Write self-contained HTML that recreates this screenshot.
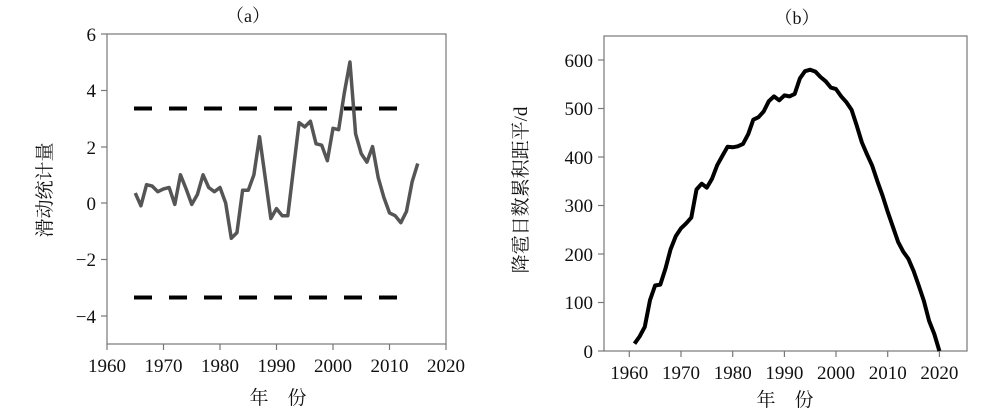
<!DOCTYPE html>
<html><head><meta charset="utf-8"><style>body{margin:0;background:#fff}svg{display:block}text{font-family:"Liberation Serif","Noto Serif CJK SC",serif;fill:#111}</style></head><body>
<svg width="1000" height="414" xmlns="http://www.w3.org/2000/svg">
<g font-size="18">
<text x="248" y="22" text-anchor="middle">（a）</text>
<text x="797" y="24" text-anchor="middle">（b）</text>
</g>
<!-- Chart a -->
<rect x="107" y="34" width="339" height="310" fill="none" stroke="#777" stroke-width="1.2"/>
<g stroke="#777" stroke-width="1.2">
<line x1="101" y1="34" x2="107" y2="34"/><line x1="101" y1="90.5" x2="107" y2="90.5"/><line x1="101" y1="147" x2="107" y2="147"/><line x1="101" y1="203" x2="107" y2="203"/><line x1="101" y1="259.5" x2="107" y2="259.5"/><line x1="101" y1="316" x2="107" y2="316"/>
<line x1="107" y1="344" x2="107" y2="350"/><line x1="163.5" y1="344" x2="163.5" y2="350"/><line x1="220" y1="344" x2="220" y2="350"/><line x1="276.5" y1="344" x2="276.5" y2="350"/><line x1="333" y1="344" x2="333" y2="350"/><line x1="389.5" y1="344" x2="389.5" y2="350"/><line x1="446" y1="344" x2="446" y2="350"/>
</g>
<g font-size="19" text-anchor="end">
<text x="96" y="41">6</text><text x="96" y="97">4</text><text x="96" y="154">2</text><text x="96" y="210">0</text><text x="96" y="266">−2</text><text x="96" y="323">−4</text>
</g>
<g font-size="19" text-anchor="middle">
<text x="107" y="372">1960</text><text x="163.5" y="372">1970</text><text x="220" y="372">1980</text><text x="276.5" y="372">1990</text><text x="333" y="372">2000</text><text x="389.5" y="372">2010</text><text x="446" y="372">2020</text>
<text x="278" y="404">年　份</text>
</g>
<text transform="translate(51,190) rotate(-90)" font-size="19" text-anchor="middle">滑动统计量</text>
<g stroke="#000" stroke-width="4" stroke-dasharray="18 17">
<line x1="134" y1="108.5" x2="400" y2="108.5"/><line x1="134" y1="297.5" x2="400" y2="297.5"/>
</g>
<polyline fill="none" stroke="#555" stroke-width="3.5" stroke-linejoin="round" points="135.25,193.1 140.9,205.8 146.55,184.7 152.2,186.1 157.85,191.7 163.5,188.9 169.15,187.5 174.8,204.4 180.45,174.8 186.1,188.9 191.75,204.4 197.4,194.5 203.05,174.8 208.7,187.5 214.35,191.7 220,187.5 225.65,203 231.3,238.3 236.95,232.6 242.6,190.3 248.25,190.3 253.9,174.8 259.55,136.7 265.2,177.6 270.85,218.5 276.5,208.6 282.15,215.7 287.8,215.7 293.45,169.2 299.1,122.6 304.75,126.9 310.4,121.2 316.05,143.8 321.7,145.2 327.35,160.7 333,128.3 338.65,129.7 344.3,93 349.95,62 355.6,133.9 361.25,153.7 366.9,162.1 372.55,146.6 378.2,177.6 383.85,197.4 389.5,212.9 395.15,215.7 400.8,222.7 406.45,211.5 412.1,181.9 417.75,163.5"/>
<!-- Chart b -->
<rect x="604" y="36" width="363" height="315" fill="none" stroke="#777" stroke-width="1.2"/>
<g stroke="#777" stroke-width="1.2">
<line x1="598" y1="60" x2="604" y2="60"/><line x1="598" y1="108.5" x2="604" y2="108.5"/><line x1="598" y1="157" x2="604" y2="157"/><line x1="598" y1="205.5" x2="604" y2="205.5"/><line x1="598" y1="254" x2="604" y2="254"/><line x1="598" y1="302.5" x2="604" y2="302.5"/><line x1="598" y1="351" x2="604" y2="351"/>
<line x1="629.3" y1="351" x2="629.3" y2="357"/><line x1="681" y1="351" x2="681" y2="357"/><line x1="732.7" y1="351" x2="732.7" y2="357"/><line x1="784.4" y1="351" x2="784.4" y2="357"/><line x1="836" y1="351" x2="836" y2="357"/><line x1="887.7" y1="351" x2="887.7" y2="357"/><line x1="939.4" y1="351" x2="939.4" y2="357"/>
</g>
<g font-size="19" text-anchor="end">
<text x="593" y="67">600</text><text x="593" y="115">500</text><text x="593" y="164">400</text><text x="593" y="212">300</text><text x="593" y="261">200</text><text x="593" y="309">100</text><text x="593" y="358">0</text>
</g>
<g font-size="19" text-anchor="middle">
<text x="629.3" y="379">1960</text><text x="681" y="379">1970</text><text x="732.7" y="379">1980</text><text x="784.4" y="379">1990</text><text x="836" y="379">2000</text><text x="887.7" y="379">2010</text><text x="939.4" y="379">2020</text>
<text x="785" y="406">年　份</text>
</g>
<text transform="translate(527,190) rotate(-90)" font-size="19" text-anchor="middle">降雹日数累积距平/d</text>
<polyline fill="none" stroke="#000" stroke-width="4" stroke-linejoin="round" points="634.5,343.7 639.6,336.5 644.8,326.8 650,300.1 655.1,285.5 660.3,284.6 665.5,268.5 670.6,249.2 675.8,236.1 681,228.3 686.1,223.4 691.3,217.6 696.5,189.5 701.7,183.7 706.8,187.6 712,178.8 717.2,165.2 722.3,156 727.5,146.8 732.7,147.3 737.8,146.3 743,143.9 748.2,134.2 753.3,119.7 758.5,117.2 763.7,111.4 768.8,101.2 774,96.4 779.2,100.3 784.4,95.4 789.5,96.4 794.7,93.9 799.9,78.4 805,71.2 810.2,69.7 815.4,71.6 820.5,77 825.7,81.3 830.9,87.6 836,89.1 841.2,96.4 846.4,102.2 851.6,109.9 856.7,125.5 861.9,142.5 867.1,154.6 872.2,165.7 877.4,181.3 882.6,195.8 887.7,211.8 892.9,226.8 898.1,241.9 903.2,251.6 908.4,258.9 913.6,271 918.7,285.5 923.9,301 929.1,320.9 934.3,334 939.4,351"/>
</svg>
</body></html>
